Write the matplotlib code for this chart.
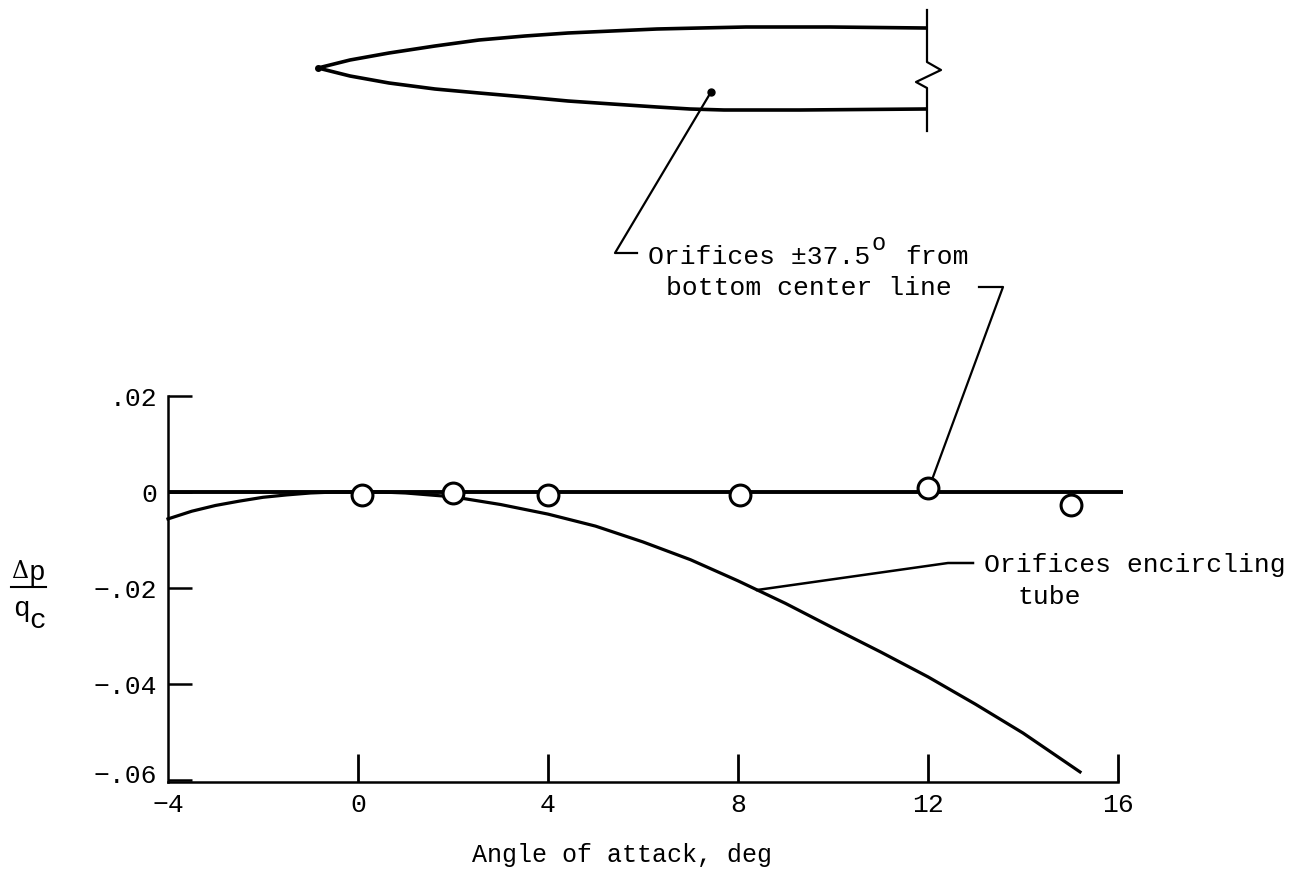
import matplotlib
matplotlib.use('Agg')
import matplotlib.pyplot as plt
from matplotlib.transforms import ScaledTranslation

plt.rcParams['font.family'] = ['Liberation Mono', 'DejaVu Sans']

W, H = 1303, 873

# data
x_ticks = [-4, 0, 4, 8, 12, 16]
x_labels = ['\u22124', '0', '4', '8', '12', '16']
y_ticks = [0.02, 0, -0.02, -0.04, -0.06]
y_labels = ['.02', '0', '\u2212.02', '\u2212.04', '\u2212.06']

alpha_pts = [0.08, 2.0, 4.0, 8.05, 12.0, 15.0]
dp_pts = [-0.0006, -0.0002, -0.0006, -0.0006, 0.0008, -0.0027]

zero_x = [-4, 16.1]
zero_y = [0, 0]

curve_x = [-4, -3.5, -3, -2.5, -2, -1.5, -1, -0.5, 0, 0.5, 1, 1.5, 2, 3, 4, 5, 6, 7, 8, 9, 10, 11, 12, 13, 14, 15.2]
curve_y = [-0.0056, -0.004, -0.0028, -0.0019, -0.0011, -0.0006, -0.0002, 0, 0, 0, -0.0002, -0.0006, -0.001,
           -0.0026, -0.0046, -0.0071, -0.0104, -0.0141, -0.0185, -0.0232, -0.0283, -0.0333, -0.0385, -0.0442, -0.0502, -0.0583]

# sketch of the nose, in picture pixels
upper_x = [318, 350, 389, 435, 479, 525, 568, 612, 657, 700, 746, 830, 925]
upper_y = [68, 60, 53, 46, 40, 36, 33, 31, 29, 28, 27, 27, 28]
lower_x = [318, 350, 389, 435, 479, 525, 568, 612, 657, 690, 724, 800, 925]
lower_y = [68, 76, 83, 89, 93, 97, 101, 104, 107, 109, 110, 110, 109]
break_x = [927, 927, 941, 916, 927, 927]
break_y = [10, 62, 70, 82, 88, 131]

fig = plt.figure(figsize=(W / 100, H / 100), dpi=100)
ax = fig.add_axes([168 / W, 1 - 782 / H, (1118 - 168) / W, (782 - 396) / H])
ax.set_xlim(-4, 16)
ax.set_ylim(-0.0604, 0.02)
ax.patch.set_alpha(0)
for s in ['top', 'right']:
    ax.spines[s].set_visible(False)
ax.spines['left'].set_linewidth(1.8)
ax.spines['bottom'].set_linewidth(1.8)
ax.set_xticks(x_ticks)
ax.set_xticklabels(x_labels)
ax.set_yticks(y_ticks)
ax.set_yticklabels(y_labels)
ax.tick_params(axis='x', direction='in', length=20, width=2, labelsize=19, pad=8)
ax.tick_params(axis='y', direction='in', length=17, width=1.8, labelsize=19, pad=8)
ax.xaxis.get_major_ticks()[0].tick1line.set_visible(False)

# the -.06 label sits a little above its tick
low = ax.get_yticklabels()[-1]
low.set_transform(low.get_transform() + ScaledTranslation(0, 0.07, fig.dpi_scale_trans))

ax.plot(zero_x, zero_y, color='black', lw=2.8, clip_on=False, solid_capstyle='butt')
ax.plot(curve_x, curve_y, color='black', lw=2.3, clip_on=False)
ax.plot(alpha_pts, dp_pts, 'o', ms=15, mfc='white', mec='black', mew=2.2, clip_on=False, zorder=5)

# overlay in picture pixels for the sketch and the notes
ov = fig.add_axes([0, 0, 1, 1])
ov.set_xlim(0, W)
ov.set_ylim(H, 0)
ov.axis('off')
ov.patch.set_alpha(0)

ov.plot(upper_x, upper_y, color='black', lw=2.6)
ov.plot(lower_x, lower_y, color='black', lw=2.6)
ov.plot(break_x, break_y, color='black', lw=1.6)
ov.plot([318], [68], 'o', color='black', ms=4)
ov.plot([711], [92], 'o', color='black', ms=5)

ov.plot([711, 615, 637], [92, 253, 253], color='black', lw=1.6)
ov.plot([979, 1003, 933], [287, 287, 477], color='black', lw=1.6)
ov.plot([757, 948, 973], [590, 563, 563], color='black', lw=1.8)

ov.text(648, 257, 'Orifices \u00b137.5', fontsize=19, ha='left', va='center')
ov.text(879, 243, 'o', fontsize=17, ha='center', va='center')
ov.text(905, 257, 'from', fontsize=19, ha='left', va='center')
ov.text(666, 288, 'bottom center line', fontsize=19, ha='left', va='center')
ov.text(984, 565, 'Orifices encircling', fontsize=19, ha='left', va='center')
ov.text(1018, 597, 'tube', fontsize=19, ha='left', va='center')
ov.text(472, 855, 'Angle of attack, deg', fontsize=18, ha='left', va='center')

# y axis title, written as a fraction
ov.text(20, 571, '\u0394', fontsize=17, ha='center', va='center', family=['DejaVu Serif'])
ov.text(37, 573, 'p', fontsize=20, ha='center', va='center')
ov.plot([11, 46], [587, 587], color='black', lw=1.5)
ov.text(21, 609, 'q', fontsize=20, ha='center', va='center')
ov.text(38, 621, 'c', fontsize=20, ha='center', va='center')

fig.savefig('out.png', dpi=100)
